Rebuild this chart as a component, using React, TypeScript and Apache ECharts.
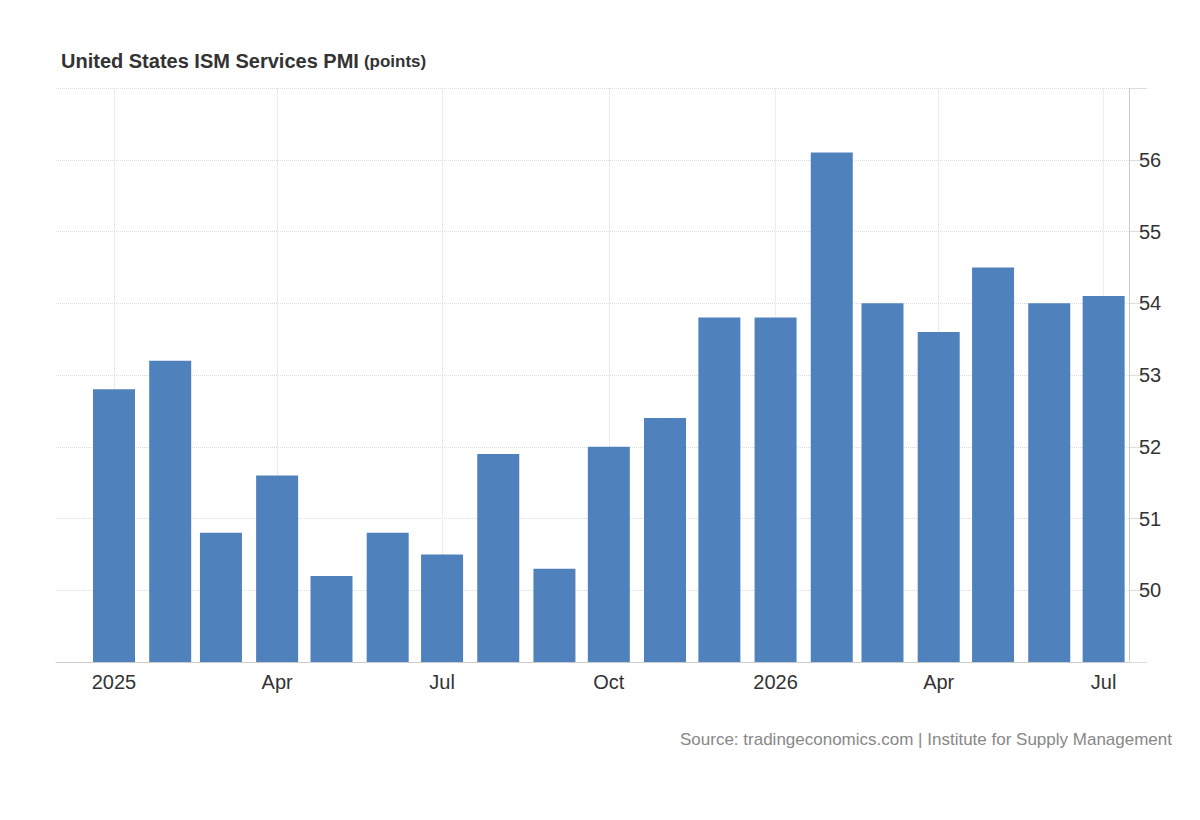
import React, { useEffect, useRef } from "react";
import * as echarts from "echarts";

const months = ["2025-01","2025-02","2025-03","2025-04","2025-05","2025-06","2025-07","2025-08","2025-09","2025-10","2025-11","2025-12","2026-01","2026-02","2026-03","2026-04","2026-05","2026-06","2026-07"];
const values = [52.8,53.2,50.8,51.6,50.2,50.8,50.5,51.9,50.3,52.0,52.4,53.8,53.8,56.1,54.0,53.6,54.5,54.0,54.1];
const tickMonths = ["2025-01","2025-04","2025-07","2025-10","2026-01","2026-04","2026-07"];
const tickLabels = ["2025","Apr","Jul","Oct","2026","Apr","Jul"];

// day index since epoch
const dayOf = (m: string) => Date.UTC(+m.slice(0, 4), +m.slice(5, 7) - 1, 1) / 86400000;

export default function App() {
  const ref = useRef<HTMLDivElement>(null);
  useEffect(() => {
    const chart = echarts.init(ref.current!, null, { renderer: "svg" });
    const tickDays = tickMonths.map(dayOf);
    chart.setOption({
      animation: false,
      textStyle: { fontFamily: "Arial, 'Liberation Sans', sans-serif" },
      title: {
        left: 48, top: 38,
        text: "{a|United States ISM Services PMI} {b|(points)}",
        textStyle: { rich: {
          a: { fontSize: 20, fontWeight: "bold", color: "#333" },
          b: { fontSize: 17, fontWeight: "bold", color: "#333" },
        } },
      },
      graphic: [{ type: "text", right: 20, top: 723, style: { text: "Source: tradingeconomics.com | Institute for Supply Management", fontSize: 17, fill: "#888" } }],
      grid: { left: 48, right: 63, top: 80, bottom: 150 },
      xAxis: {
        type: "value",
        min: dayOf("2025-01") - 32,
        max: dayOf("2026-07") + 14,
        axisLine: { lineStyle: { color: "#ccc" } },
        axisTick: { show: false, customValues: tickDays },
        axisLabel: {
          customValues: tickDays, fontSize: 20, color: "#333", margin: 10,
          formatter: (v: number) => { const i = tickDays.indexOf(v); return i >= 0 ? tickLabels[i] : ""; },
        },
        splitLine: { show: true, lineStyle: { type: "dotted", color: "#ddd" } },
      },
      yAxis: {
        type: "value", position: "right", min: 49, max: 57, interval: 1,
        axisLine: { show: true, lineStyle: { color: "#ccc" } },
        axisTick: { show: true, length: 18, lineStyle: { color: "#ddd" } },
        axisLabel: { fontSize: 20, color: "#333", margin: 10, formatter: (v: number) => (v === 49 || v === 57 ? "" : String(v)) },
        splitLine: { lineStyle: { type: "dotted", color: "#ddd" } },
      },
      series: [{
        type: "bar", barWidth: 42,
        data: months.map((m, i) => [dayOf(m), values[i]]),
        itemStyle: { color: "#4f81bd" },
      }],
    });
    return () => chart.dispose();
  }, []);
  return <div ref={ref} style={{ width: 1184, height: 804 }} />;
}
